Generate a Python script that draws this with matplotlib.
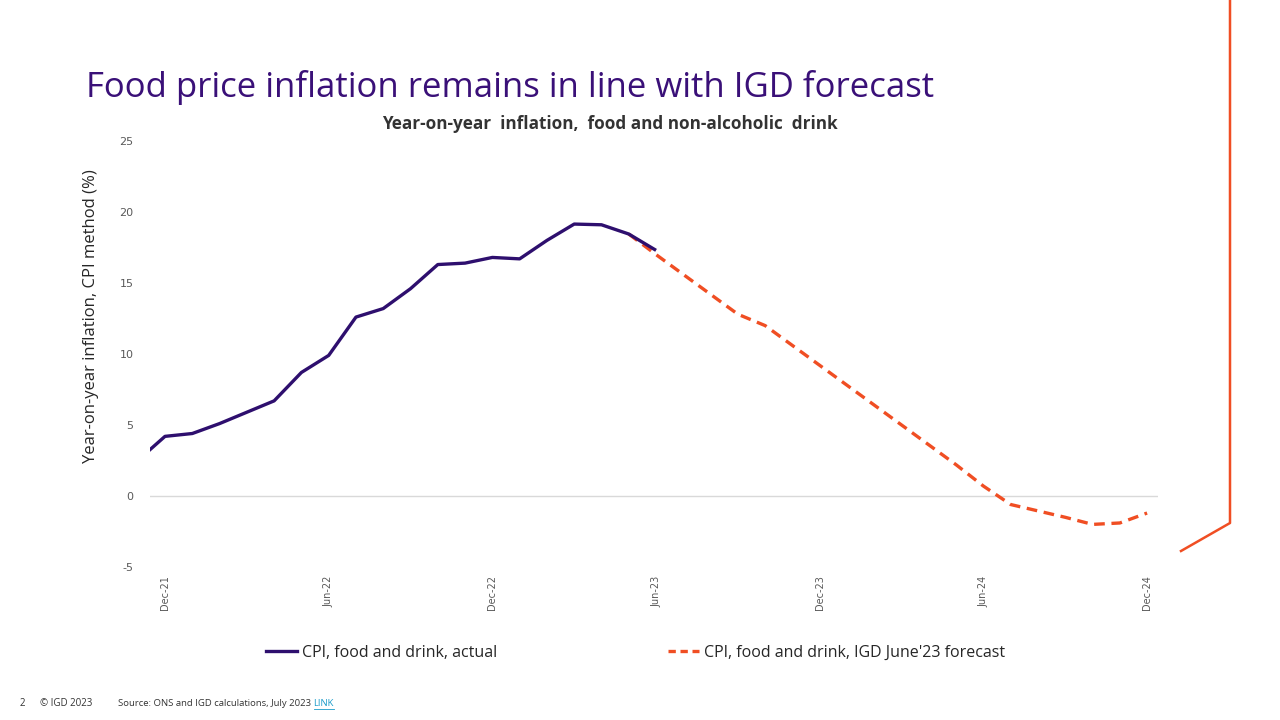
import numpy as np
import matplotlib.pyplot as plt
from matplotlib.lines import Line2D

plt.rcParams["axes.unicode_minus"] = False

# Months from Nov-21 (index 0) to Dec-24 (index 37)
meses = ["Nov-21", "Dec-21", "Jan-22", "Feb-22", "Mar-22", "Apr-22", "May-22", "Jun-22",
         "Jul-22", "Aug-22", "Sep-22", "Oct-22", "Nov-22", "Dec-22", "Jan-23", "Feb-23",
         "Mar-23", "Apr-23", "May-23", "Jun-23", "Jul-23", "Aug-23", "Sep-23", "Oct-23",
         "Nov-23", "Dec-23", "Jan-24", "Feb-24", "Mar-24", "Apr-24", "May-24", "Jun-24",
         "Jul-24", "Aug-24", "Sep-24", "Oct-24", "Nov-24", "Dec-24"]

# Actual CPI food & drink, Nov-21 .. Jun-23
real = [2.5, 4.2, 4.4, 5.1, 5.9, 6.7, 8.7, 9.9, 12.6, 13.2, 14.6, 16.3, 16.4, 16.8,
        16.7, 18.0, 19.15, 19.1, 18.45, 17.3]

# IGD June'23 forecast, May-23 .. Dec-24
previsao = [18.45, 17.0, 15.6, 14.2, 12.8, 12.0, 10.6, 9.2, 7.8, 6.4, 5.0, 3.6, 2.2,
            0.7, -0.6, -1.05, -1.5, -2.0, -1.9, -1.2]

rotulos_x = ["Dec-21", "Jun-22", "Dec-22", "Jun-23", "Dec-23", "Jun-24", "Dec-24"]
pos_rotulos = [meses.index(r) for r in rotulos_x]

roxo = "#2E0F6E"
laranja = "#F04E23"
titulo_cor = "#3A1078"

fonte = ["Open Sans", "DejaVu Sans"]

fig = plt.figure(figsize=(12.8, 7.2), dpi=100)
ax = fig.add_axes([150 / 1280, 1 - 567 / 720, (1158 - 150) / 1280, (567 - 141) / 720])

x_real = np.arange(len(real))
x_prev = np.arange(len(meses) - len(previsao), len(meses))

ax.axhline(0, color="#D9D9D9", lw=1, zorder=1)
ax.plot(x_prev, previsao, color=laranja, lw=2.4, ls=(0, (3.2, 2.0)), zorder=2)
ax.plot(x_real, real, color=roxo, lw=2.4, zorder=3, solid_capstyle="butt")

ax.set_xlim(0.45, 37.4)
ax.set_ylim(-5, 25)
ax.set_yticks(range(-5, 26, 5))
ax.set_xticks(pos_rotulos)
ax.set_xticklabels(rotulos_x, rotation=90, fontsize=7, color="#595959", family="DejaVu Sans")
ax.tick_params(axis="y", labelsize=8, colors="#595959", length=0, pad=12)
ax.tick_params(axis="x", length=0, pad=6)
for lab in ax.get_yticklabels():
    lab.set_family("DejaVu Sans")
for s in ax.spines.values():
    s.set_visible(False)

ax.set_ylabel("Year-on-year inflation, CPI method (%)", fontsize=12, family=fonte,
              color="#262626")
ax.yaxis.set_label_coords(-0.0506, 0.59)

fig.text(86 / 1280, 1 - 97 / 720, "Food price inflation remains in line with IGD forecast",
         fontsize=25, color=titulo_cor, family=fonte, ha="left", va="baseline")
fig.text(610 / 1280, 1 - 124 / 720, "Year-on-year  inflation,  food and non-alcoholic  drink",
         fontsize=12.3, weight="bold", color="#333333", family=fonte, ha="center", va="center")

# legend
h1 = Line2D([], [], color=roxo, lw=2.4)
h2 = Line2D([], [], color=laranja, lw=2.4, ls=(0, (2.2, 1.4)))
fig.legend([h1], ["CPI, food and drink, actual"], loc="center left",
           bbox_to_anchor=(252 / 1280, 1 - 653 / 720), frameon=False,
           prop={"family": fonte, "size": 11.5}, handlelength=1.9, handletextpad=0.35,
           labelcolor="#262626")
fig.legend([h2], ["CPI, food and drink, IGD June'23 forecast"], loc="center left",
           bbox_to_anchor=(654 / 1280, 1 - 653 / 720), frameon=False,
           prop={"family": fonte, "size": 11.5}, handlelength=1.9, handletextpad=0.35,
           labelcolor="#262626")

# footer
fig.text(20 / 1280, 1 - 704 / 720, "2", fontsize=7, color="#333333", family=fonte, va="center")
fig.text(40 / 1280, 1 - 704 / 720, "© IGD 2023", fontsize=7, color="#333333", family=fonte, va="center")
src = fig.text(118 / 1280, 1 - 704 / 720, "Source: ONS and IGD calculations, July 2023 ",
               fontsize=6.8, color="#333333", family=fonte, va="center")
fig.canvas.draw()
bb = src.get_window_extent()
lk = fig.text(bb.x1 / 1280, 1 - 704 / 720, "LINK", fontsize=6.8, color="#1A9BC9", family=fonte,
              va="center")
fig.canvas.draw()
bl = lk.get_window_extent()
fig.add_artist(Line2D([bl.x0 / 1280, bl.x1 / 1280], [1 - 709 / 720, 1 - 709 / 720],
                      color="#1A9BC9", lw=0.6))

# decorative orange line on the right
fig.add_artist(Line2D([1230 / 1280, 1230 / 1280, 1181 / 1280], [1.0, 1 - 523 / 720, 1 - 551 / 720],
                      color=laranja, lw=1.8))

fig.savefig("out.png", dpi=100, facecolor="white")
